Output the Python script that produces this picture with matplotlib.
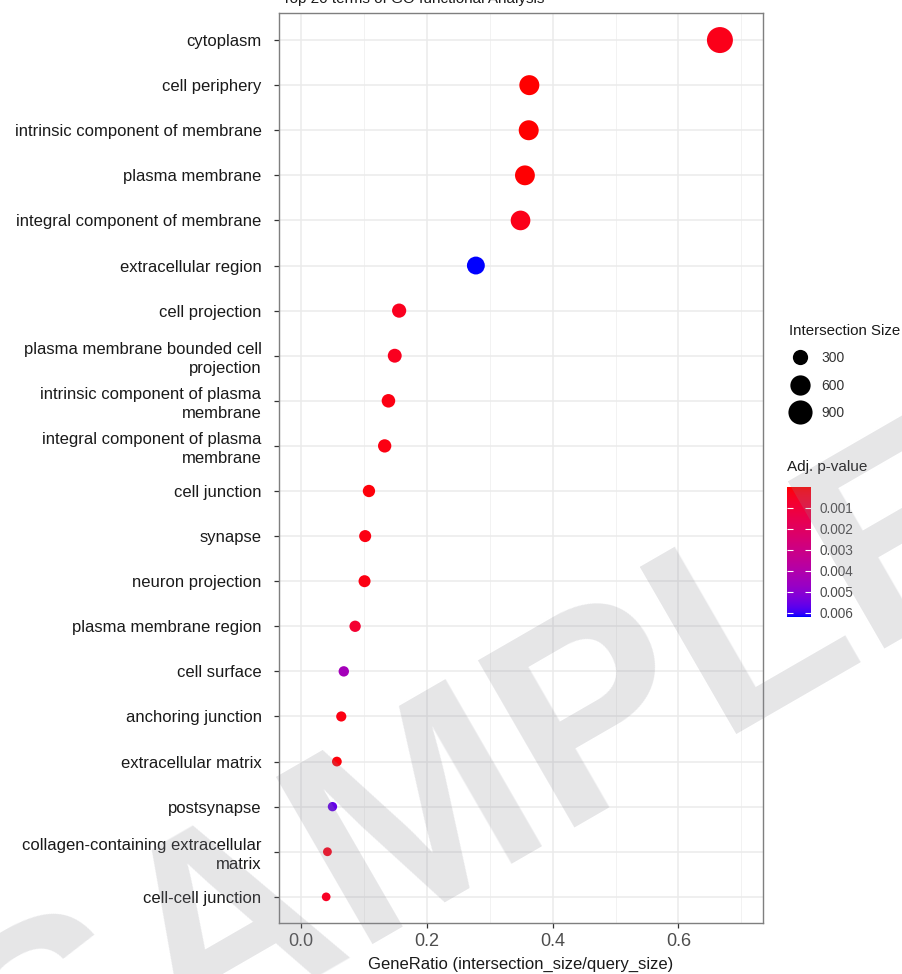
import numpy as np
import matplotlib
matplotlib.use("Agg")
import matplotlib.pyplot as plt
from matplotlib.colors import ListedColormap, Normalize
from matplotlib.lines import Line2D
from matplotlib.ticker import FixedLocator

# ---------------- data ----------------
terms = [
    "cytoplasm", "cell periphery", "intrinsic component of membrane",
    "plasma membrane", "integral component of membrane", "extracellular region",
    "cell projection", "plasma membrane bounded cell\nprojection",
    "intrinsic component of plasma\nmembrane", "integral component of plasma\nmembrane",
    "cell junction", "synapse", "neuron projection", "plasma membrane region",
    "cell surface", "anchoring junction", "extracellular matrix", "postsynapse",
    "collagen-containing extracellular\nmatrix", "cell-cell junction",
]
gene_ratio = [0.666, 0.363, 0.362, 0.356, 0.349, 0.278, 0.156, 0.149, 0.139, 0.133,
              0.108, 0.102, 0.101, 0.086, 0.068, 0.064, 0.057, 0.050, 0.042, 0.040]
intersection_size = [1066, 581, 579, 570, 558, 445, 250, 238, 222, 213,
                     173, 163, 162, 138, 109, 102, 91, 80, 67, 64]
adj_pvalue = [0.0003, 0.00001, 0.00002, 0.00003, 0.0003, 0.0062, 0.0004, 0.0004, 0.0002, 0.0002,
              0.0001, 0.0002, 0.0002, 0.0008, 0.0044, 0.0002, 0.0001, 0.0056, 0.0003, 0.0005]
size_breaks = [300, 600, 900]
p_breaks = [0.001, 0.002, 0.003, 0.004, 0.005, 0.006]
title = "Top 20 terms of GO functional Analysis"

# ---------------- helpers ----------------
DPI = 100
W, H = 902, 974

def _srgb_to_lab(rgb):
    rgb = np.asarray(rgb, float)
    lin = np.where(rgb <= 0.04045, rgb / 12.92, ((rgb + 0.055) / 1.055) ** 2.4)
    M = np.array([[0.4124, 0.3576, 0.1805], [0.2126, 0.7152, 0.0722], [0.0193, 0.1192, 0.9505]])
    xyz = M @ lin / np.array([0.95047, 1.0, 1.08883])
    f = np.where(xyz > 0.008856, np.cbrt(xyz), 7.787 * xyz + 16 / 116)
    return np.array([116 * f[1] - 16, 500 * (f[0] - f[1]), 200 * (f[1] - f[2])])

def _lab_to_srgb(lab):
    L, a, b = lab
    fy = (L + 16) / 116
    fx = fy + a / 500
    fz = fy - b / 200
    f = np.array([fx, fy, fz])
    xyz = np.where(f ** 3 > 0.008856, f ** 3, (f - 16 / 116) / 7.787) * np.array([0.95047, 1.0, 1.08883])
    Minv = np.array([[3.2406, -1.5372, -0.4986], [-0.9689, 1.8758, 0.0415], [0.0557, -0.2040, 1.0570]])
    lin = np.clip(Minv @ xyz, 0, 1)
    rgb = np.where(lin <= 0.0031308, 12.92 * lin, 1.055 * lin ** (1 / 2.4) - 0.055)
    return np.clip(rgb, 0, 1)

lab_lo = _srgb_to_lab([1, 0, 0])
lab_hi = _srgb_to_lab([0, 0, 1])
cmap = ListedColormap([_lab_to_srgb(lab_lo + t * (lab_hi - lab_lo)) for t in np.linspace(0, 1, 256)])
norm = Normalize(vmin=0.0, vmax=0.0062)

def diam_px(v):
    return 3.08 + 0.702 * np.sqrt(np.asarray(v, float))

def diam_pt(v):
    return diam_px(v) * 72.0 / DPI

# ---------------- figure ----------------
plt.rcParams['font.family'] = ['Liberation Sans', 'DejaVu Sans']
fig = plt.figure(figsize=(W / DPI, H / DPI), dpi=DPI)
ax = fig.add_axes([279 / W, 1 - 923 / H, (763 - 279) / W, (923 - 13) / H])

ypos = np.arange(len(terms))
ax.scatter(gene_ratio, ypos, s=diam_pt(intersection_size) ** 2, c=adj_pvalue,
           cmap=cmap, norm=norm, linewidths=0, zorder=3)

ax.set_xlim(-0.035, 0.7345)
ax.set_ylim(len(terms) - 1 + 0.58, -0.6)
ax.xaxis.set_major_locator(FixedLocator([0.0, 0.2, 0.4, 0.6]))
ax.xaxis.set_minor_locator(FixedLocator([0.1, 0.3, 0.5, 0.7]))
ax.set_xticklabels(["0.0", "0.2", "0.4", "0.6"])
ax.set_yticks(ypos)
ax.set_yticklabels(terms, linespacing=1.28)

ax.grid(which='major', color='#ebebeb', linewidth=1.1, zorder=0)
ax.grid(which='minor', axis='x', color='#f2f2f2', linewidth=0.7, zorder=0)
ax.set_axisbelow(True)
for sp in ax.spines.values():
    sp.set_color('#7f7f7f')
    sp.set_linewidth(1.0)

ax.tick_params(axis='y', length=3.6, width=0.9, color='#333333', pad=9,
               labelsize=12, labelcolor='#1a1a1a')
ax.tick_params(axis='x', which='major', length=3.6, width=0.9, color='#333333', pad=3.5,
               labelsize=13, labelcolor='#4d4d4d')
ax.tick_params(axis='x', which='minor', length=0)
ax.set_xlabel("GeneRatio (intersection_size/query_size)", fontsize=12, color='#1a1a1a', labelpad=5)

# title (cut off at the top in the reference)
fig.text(282 / W, 1 - 3 / H, title, fontsize=11, color='#1a1a1a', ha='left', va='baseline')

# ---------------- size legend ----------------
handles = [Line2D([], [], marker='o', ls='', color='black', markeredgewidth=0,
                  markersize=float(diam_pt(v))) for v in size_breaks]
leg = fig.legend(handles, [str(v) for v in size_breaks], title="Intersection Size",
                 loc='upper left', bbox_to_anchor=(778 / W, 1 - 313 / H), frameon=False,
                 fontsize=10, title_fontsize=10.8, handletextpad=0.75, labelspacing=0.95,
                 borderpad=0.3, handlelength=1.6)
leg._legend_box.align = 'left'
for t in leg.get_texts():
    t.set_color('#333333')
leg.get_title().set_color('#1a1a1a')

# ---------------- colour bar ----------------
fig.text(787 / W, 1 - 467 / H, "Adj. p-value", fontsize=11, color='#1a1a1a', ha='left', va='center')
cax = fig.add_axes([787 / W, 1 - 617 / H, 24 / W, (617 - 487) / H])
sm = matplotlib.cm.ScalarMappable(norm=norm, cmap=cmap)
cb = fig.colorbar(sm, cax=cax, ticks=p_breaks)
cb.outline.set_visible(False)
cb.ax.set_yticklabels([f"{p:.3f}" for p in p_breaks])
cb.ax.invert_yaxis()
cax.tick_params(direction='in', color='white', length=4, width=0.8, left=True, right=True,
                labelsize=9.8, labelcolor='#4d4d4d', pad=6)

# ---------------- watermark ----------------
fig.text(19 / W, 1 - 1143 / H, "SAMPLE", fontsize=201.6, fontweight='bold',
         family='Liberation Sans', rotation=30, rotation_mode='anchor',
         ha='left', va='baseline', color='#8c8c94', alpha=0.22, zorder=20)

fig.savefig("out.png", dpi=DPI)
